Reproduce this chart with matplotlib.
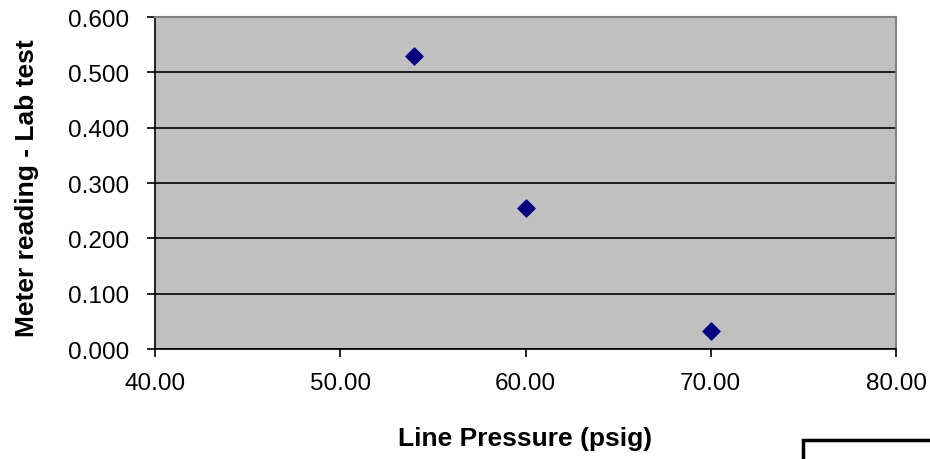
import matplotlib.pyplot as plt
from matplotlib.patches import Rectangle

plt.rcParams['font.family'] = ['Liberation Sans', 'DejaVu Sans']

# data
pressure = [54.0, 60.0, 70.0]
reading = [0.530, 0.255, 0.033]
x_ticks = [40, 50, 60, 70, 80]
y_ticks = [0.0, 0.1, 0.2, 0.3, 0.4, 0.5, 0.6]

fig = plt.figure(figsize=(9.3, 4.6), dpi=100)
ax = fig.add_axes([0.1667, 0.2391, 0.7968, 0.7217])
ax.set_facecolor('#C0C0C0')

ax.scatter(pressure, reading, marker='D', s=75, color='#000080', zorder=3)

ax.set_xlim(40, 80)
ax.set_ylim(0, 0.6)
ax.set_xticks(x_ticks)
ax.set_xticklabels([f'{v:.2f}' for v in x_ticks])
ax.set_yticks(y_ticks)
ax.set_yticklabels([f'{v:.3f}' for v in y_ticks])
ax.tick_params(labelsize=17.5, direction='out', length=5.5, width=1.2, color='black')
ax.tick_params(axis='x', pad=11)
ax.tick_params(axis='y', pad=13)

ax.yaxis.grid(True, color='black', linewidth=1.2)
ax.set_axisbelow(True)

for s in ['left', 'bottom']:
    ax.spines[s].set_color('black')
    ax.spines[s].set_linewidth(1.2)
for s in ['top', 'right']:
    ax.spines[s].set_color('#808080')
    ax.spines[s].set_linewidth(1.5)

ax.set_xlabel('Line Pressure (psig)', fontsize=19, fontweight='bold')
ax.set_ylabel('Meter reading - Lab test', fontsize=19, fontweight='bold')
ax.xaxis.set_label_coords(0.5, -0.232)
ax.yaxis.set_label_coords(-0.1565, 0.489)

# box cut off at the lower right (legend frame)
fig.patches.append(Rectangle((803 / 930, -0.05), 0.2, 0.05 + 19 / 460,
                             transform=fig.transFigure, fill=False,
                             edgecolor='black', linewidth=2.5))

fig.savefig('out.png', dpi=100)
